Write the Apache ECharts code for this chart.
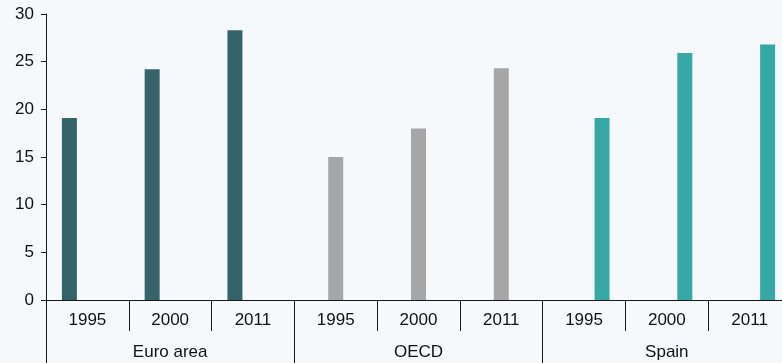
<!DOCTYPE html>
<html lang="en">
<head>
    <meta charset="UTF-8">
    <title>Bar chart</title>
    <script src="https://cdn.jsdelivr.net/npm/echarts@6/dist/echarts.min.js"></script>
    <style>
        html, body { margin: 0; padding: 0; background: #f6f9fb; }
        #chart { width: 782px; height: 363px; }
    </style>
</head>
<body>
<div id="chart"></div>
<script>
    var groups = ['Euro area', 'OECD', 'Spain'];
    var years = ['1995', '2000', '2011'];
    var euroArea = [19.1, 24.2, 28.3];
    var oecd = [15.0, 18.0, 24.3];
    var spain = [19.1, 25.9, 26.8];

    // 9 slots: each group repeats the years, each series only fills its own group
    var cats = [];
    groups.forEach(function () { cats = cats.concat(years); });
    function slot(vals, g) {
        var out = [];
        for (var i = 0; i < cats.length; i++) {
            var gi = Math.floor(i / years.length);
            out.push(gi === g ? vals[i % years.length] : '-');
        }
        return out;
    }

    var txt = { color: '#111', fontSize: 17, fontFamily: 'Liberation Sans, Arial, sans-serif' };
    var line = { color: '#1a1a1a', width: 1 };

    var chart = echarts.init(document.getElementById('chart'));
    chart.setOption({
        animation: false,
        backgroundColor: '#f6f9fb',
        grid: { left: 46, top: 14, bottom: 63, width: 745, outerBoundsMode: 'none' },
        xAxis: [{
            type: 'category',
            data: cats,
            position: 'bottom',
            axisLine: { show: true, lineStyle: line },
            axisTick: { show: true, interval: 0, length: 31, lineStyle: line },
            axisLabel: Object.assign({ interval: 0, margin: 12 }, txt)
        }, {
            type: 'category',
            data: groups,
            position: 'bottom',
            axisLine: { show: false },
            axisTick: { show: true, interval: 0, length: 70, lineStyle: line },
            axisLabel: Object.assign({ interval: 0, margin: 44 }, txt)
        }],
        yAxis: {
            type: 'value',
            min: 0, max: 30, interval: 5,
            splitLine: { show: false },
            axisLine: { show: true, lineStyle: line },
            axisTick: { show: true, length: 5, lineStyle: line },
            axisLabel: Object.assign({ margin: 12 }, txt)
        },
        series: [
            { type: 'bar', name: 'Euro area', data: slot(euroArea, 0), barWidth: 15, barGap: '20%',
              itemStyle: { color: '#35636a' } },
            { type: 'bar', name: 'OECD', data: slot(oecd, 1), barWidth: 15, barGap: '20%',
              itemStyle: { color: '#a6a6a6' } },
            { type: 'bar', name: 'Spain', data: slot(spain, 2), barWidth: 15, barGap: '20%',
              itemStyle: { color: '#38a8a7' } }
        ]
    });
</script>
</body>
</html>
